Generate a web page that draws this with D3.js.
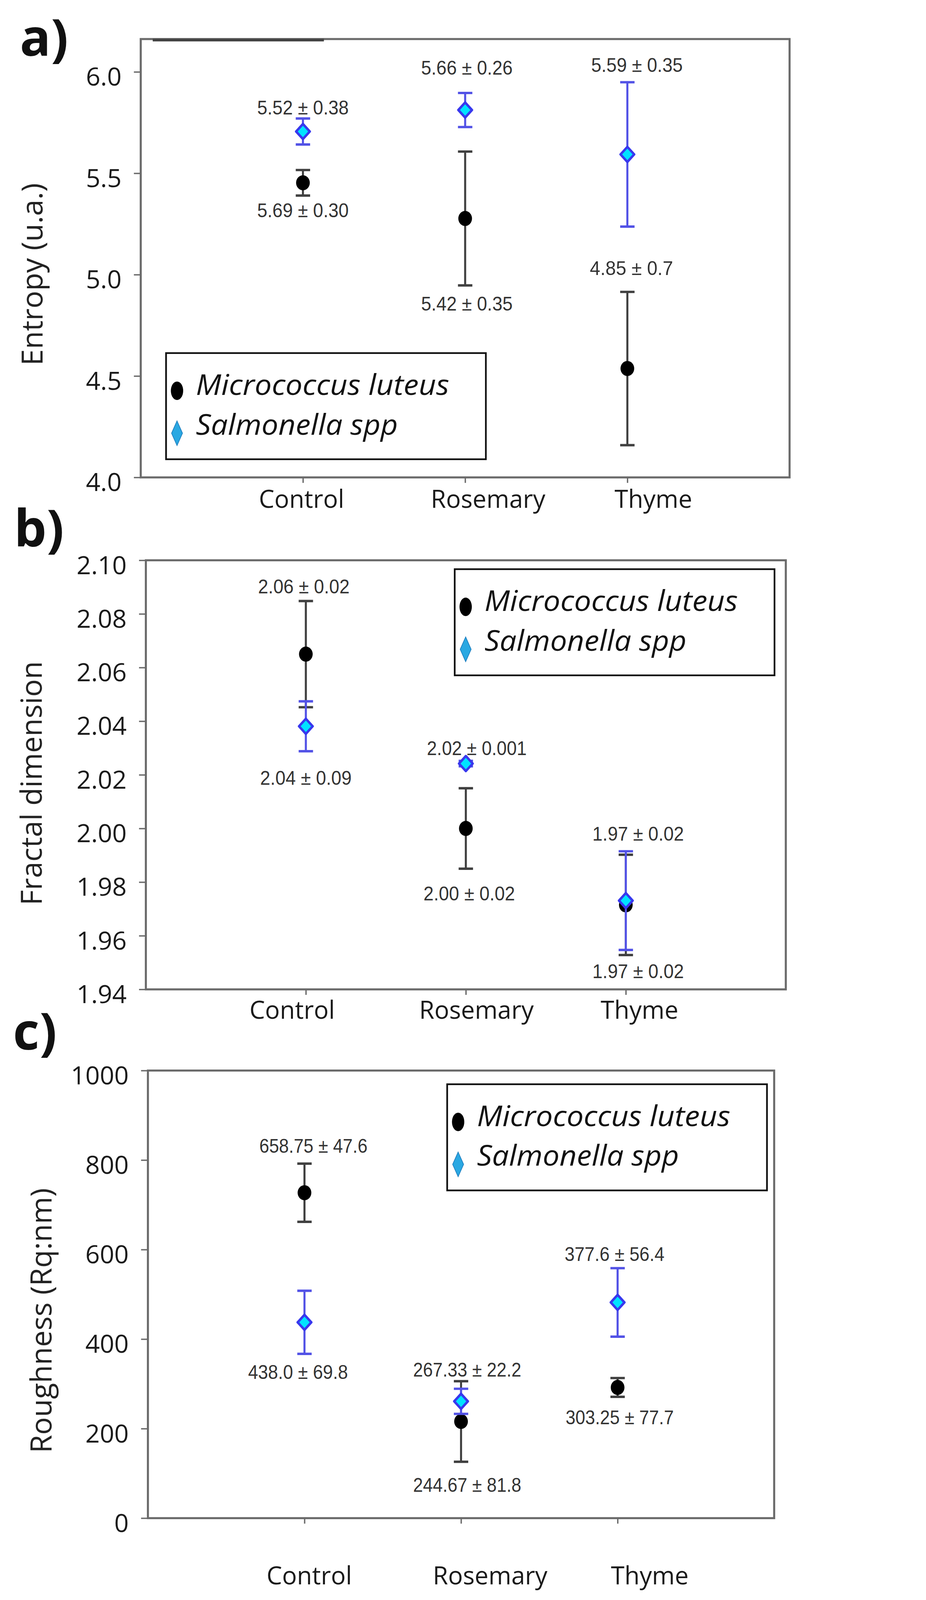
<!DOCTYPE html>
<html>

<head>
    <meta charset="utf-8">
    <style>
        html, body {
            margin: 0;
            padding: 0;
            background: #fff;
            overflow: hidden;
        }

        svg {
            display: block;
            font-family: 'Open Sans', 'DejaVu Sans', sans-serif;
        }

        .note {
            font-family: 'Liberation Sans', Arial, sans-serif;
            fill: #333;
        }
    </style>
</head>

<body>
</body>

<script src="https://d3js.org/d3.v7.min.js"></script>

<script>
    // ---- data ----
    let categories = ["Control", "Rosemary", "Thyme"]
    let seriesNames = ["Micrococcus luteus", "Salmonella spp"]

    // a) entropy
    let entropyMicro = [5.453, 5.277, 4.537]
    let entropyMicroErr = [0.063, 0.330, 0.378]
    let entropySalm = [5.706, 5.812, 5.593]
    let entropySalmErr = [0.064, 0.084, 0.356]
    let entropyTicks = [4.0, 4.5, 5.0, 5.5, 6.0]
    let entropyNotes = ["5.52 ± 0.38", "5.69 ± 0.30", "5.66 ± 0.26", "5.42 ± 0.35", "5.59 ± 0.35", "4.85 ± 0.7"]
    let entropyNoteCat = ["Control", "Control", "Rosemary", "Rosemary", "Thyme", "Thyme"]
    let entropyNoteAt = [5.824, 5.318, 6.02, 4.856, 6.034, 5.032]

    // b) fractal dimension
    let fractalMicro = [2.065, 2.000, 1.9715]
    let fractalMicroErr = [0.0198, 0.015, 0.0187]
    let fractalSalm = [2.0381, 2.0242, 1.9731]
    let fractalSalmErr = [0.0093, 0.001, 0.0184]
    let fractalTicks = [1.94, 1.96, 1.98, 2.00, 2.02, 2.04, 2.06, 2.08, 2.10]
    let fractalNotes = ["2.06 ± 0.02", "2.04 ± 0.09", "2.02 ± 0.001", "2.00 ± 0.02", "1.97 ± 0.02", "1.97 ± 0.02"]
    let fractalNoteCat = ["Control", "Control", "Rosemary", "Rosemary", "Thyme", "Thyme"]
    let fractalNoteAt = [2.0902, 2.0188, 2.030, 1.9757, 1.9981, 1.9468]

    // c) roughness
    let roughMicro = [727, 216, 292]
    let roughMicroErr = [65, 90, 21]
    let roughSalm = [437.5, 261, 482]
    let roughSalmErr = [70.5, 28, 76.5]
    let roughTicks = [0, 200, 400, 600, 800, 1000]
    let roughNotes = ["658.75 ± 47.6", "438.0 ± 69.8", "267.33 ± 22.2", "244.67 ± 81.8", "377.6 ± 56.4", "303.25 ± 77.7"]
    let roughNoteCat = ["Control", "Control", "Rosemary", "Rosemary", "Thyme", "Thyme"]
    let roughNoteAt = [832, 326.6, 332, 74, 589.7, 225.6]

    // ---- layout ----
    let width = 2371
    let height = 4672
    let black = "#000"
    let barBlack = "#404040"
    let barBlue = "#5252e6"

    let panels = [
        {
            tag: "a)", tagX: 58, tagY: 163,
            title: "Entropy (u.a.)", titleX: 94, titleY: 801,
            frame: [411, 2306, 114, 1394], domain: [4, 6.162],
            ticks: entropyTicks, fmt: d3.format(".1f"),
            micro: entropyMicro, microErr: entropyMicroErr,
            salm: entropySalm, salmErr: entropySalmErr,
            notes: entropyNotes, noteCat: entropyNoteCat, noteAt: entropyNoteAt,
            nudge: [0, 0, 5, 5, 28, 12],
            legend: [485, 1031], catY: 1458, catShift: -4
        },
        {
            tag: "b)", tagX: 41, tagY: 1596,
            title: "Fractal dimension", titleX: 92, titleY: 2287,
            frame: [426, 2295, 1636, 2889], domain: [1.94, 2.10],
            ticks: fractalTicks, fmt: d3.format(".2f"),
            micro: fractalMicro, microErr: fractalMicroErr,
            salm: fractalSalm, salmErr: fractalSalmErr,
            notes: fractalNotes, noteCat: fractalNoteCat, noteAt: fractalNoteAt,
            nudge: [-6, 0, 32, 10, 36, 36],
            legend: [1328, 1662], catY: 2950, catShift: -40
        },
        {
            tag: "c)", tagX: 38, tagY: 3065,
            title: "Roughness (Rq:nm)", titleX: 120, titleY: 3856,
            frame: [432, 2261, 3126, 4433], domain: [0, 1000],
            ticks: roughTicks, fmt: d3.format("d"),
            micro: roughMicro, microErr: roughMicroErr,
            salm: roughSalm, salmErr: roughSalmErr,
            notes: roughNotes, noteCat: roughNoteCat, noteAt: roughNoteAt,
            nudge: [26, -19, 18, 18, -9, 6],
            legend: [1306, 3166], catY: 4601, catShift: 14
        }
    ]
    let catNudge = [0, 71, 80]

    // fit the whole figure into the window, whatever its real height
    let vw = window.innerWidth || width
    let vh = window.innerHeight || height
    let s = Math.min(vw / width, vh / height, 1)

    let svg = d3.select("body").append("svg")
        .attr("width", width * s)
        .attr("height", height * s)
        .attr("viewBox", "0 0 " + width + " " + height)

    svg.append("rect").attr("width", width).attr("height", height).attr("fill", "#fff")

    function diamond(w, h) {
        return "M0," + (-h) + "L" + w + ",0L0," + h + "L" + (-w) + ",0Z"
    }

    panels.forEach(function (p, pi) {
        let [x0, x1, y0, y1] = p.frame
        let x = d3.scaleLinear().domain([0, 4]).range([x0, x1])
        let y = d3.scaleLinear().domain(p.domain).range([y1, y0])
        let xi = c => x(categories.indexOf(c) + 1)

        let g = svg.append("g").attr("class", "panel-" + pi)

        // panel letter
        g.append("text")
            .attr("x", p.tagX).attr("y", p.tagY)
            .attr("font-size", 150).attr("font-weight", "bold")
            .attr("fill", "#111")
            .text(p.tag)

        // frame
        g.append("rect")
            .attr("x", x0).attr("y", y0)
            .attr("width", x1 - x0).attr("height", y1 - y0)
            .attr("fill", "none")
            .attr("stroke", "#6b6b6b")
            .attr("stroke-width", 6)
        if (pi == 0) {
            g.append("line")
                .attr("x1", x0 + 35).attr("x2", x0 + 535)
                .attr("y1", y0 + 3).attr("y2", y0 + 3)
                .attr("stroke", "#444").attr("stroke-width", 8)
        }

        // y axis
        let yAxis = g.append("g")
            .attr("transform", "translate(" + x0 + ",0)")
            .call(d3.axisLeft(y).tickValues(p.ticks).tickFormat(p.fmt).tickSize(20).tickPadding(36))
        yAxis.select(".domain").remove()
        yAxis.selectAll("line").attr("stroke", "#6b6b6b").attr("stroke-width", 4)
        yAxis.selectAll("text")
            .attr("y", 16)
            .attr("font-size", 74)
            .attr("font-family", "'Open Sans', sans-serif")
            .attr("fill", "#1a1a1a")

        // x ticks
        let xAxis = g.append("g")
            .attr("transform", "translate(0," + y1 + ")")
            .call(d3.axisBottom(x).tickValues([1, 2, 3]).tickFormat("").tickSize(16))
        xAxis.select(".domain").remove()
        xAxis.selectAll("line").attr("stroke", "#6b6b6b").attr("stroke-width", 4)

        // category labels
        g.append("g").selectAll("text")
            .data(categories)
            .join("text")
            .attr("x", (d, i) => x(i + 1) + p.catShift + catNudge[i])
            .attr("y", p.catY)
            .attr("dy", "0.35em")
            .attr("text-anchor", "middle")
            .attr("font-size", 72)
            .attr("fill", "#1a1a1a")
            .text(d => d)

        // y title
        g.append("text")
            .attr("transform", "translate(" + p.titleX + "," + p.titleY + ") rotate(-90)")
            .attr("text-anchor", "middle")
            .attr("dy", "0.35em")
            .attr("font-size", 86)
            .attr("fill", "#222")
            .text(p.title)

        // error bars + markers
        function errorBars(vals, errs, color, cls) {
            let eb = g.append("g").attr("class", cls)
            eb.selectAll("line.stem")
                .data(vals)
                .join("line")
                .attr("class", "stem")
                .attr("x1", (d, i) => x(i + 1)).attr("x2", (d, i) => x(i + 1))
                .attr("y1", (d, i) => y(d + errs[i])).attr("y2", (d, i) => y(d - errs[i]))
                .attr("stroke", color).attr("stroke-width", 6)
            eb.selectAll("line.capTop")
                .data(vals)
                .join("line")
                .attr("class", "capTop")
                .attr("x1", (d, i) => x(i + 1) - 21).attr("x2", (d, i) => x(i + 1) + 21)
                .attr("y1", (d, i) => y(d + errs[i])).attr("y2", (d, i) => y(d + errs[i]))
                .attr("stroke", color).attr("stroke-width", 7)
            eb.selectAll("line.capBot")
                .data(vals)
                .join("line")
                .attr("class", "capBot")
                .attr("x1", (d, i) => x(i + 1) - 21).attr("x2", (d, i) => x(i + 1) + 21)
                .attr("y1", (d, i) => y(d - errs[i])).attr("y2", (d, i) => y(d - errs[i]))
                .attr("stroke", color).attr("stroke-width", 7)
        }

        errorBars(p.micro, p.microErr, barBlack, "micro-err")
        g.append("g").selectAll("ellipse")
            .data(p.micro)
            .join("ellipse")
            .attr("cx", (d, i) => x(i + 1))
            .attr("cy", d => y(d))
            .attr("rx", 20).attr("ry", 22)
            .attr("fill", black)

        errorBars(p.salm, p.salmErr, barBlue, "salm-err")
        g.append("g").selectAll("path")
            .data(p.salm)
            .join("path")
            .attr("transform", (d, i) => "translate(" + x(i + 1) + "," + y(d) + ")")
            .attr("d", diamond(20, 22))
            .attr("fill", "#00e3ff")
            .attr("stroke", "#3838ee")
            .attr("stroke-width", 7)
            .attr("stroke-linejoin", "round")

        // value notes
        g.append("g").selectAll("text")
            .data(p.notes)
            .join("text")
            .attr("class", "note")
            .attr("x", (d, i) => xi(p.noteCat[i]) + p.nudge[i])
            .attr("y", (d, i) => y(p.noteAt[i]))
            .attr("dy", "0.36em")
            .attr("text-anchor", "middle")
            .attr("font-size", 56)
            .attr("textLength", d => d.length * 24.3)
            .attr("lengthAdjust", "spacingAndGlyphs")
            .text(d => d)

        // legend
        let lg = g.append("g").attr("transform", "translate(" + p.legend[0] + "," + p.legend[1] + ")")
        lg.append("rect")
            .attr("width", 934).attr("height", 310)
            .attr("fill", "#fff")
            .attr("stroke", "#111").attr("stroke-width", 5)
        lg.append("ellipse")
            .attr("cx", 32).attr("cy", 110)
            .attr("rx", 18).attr("ry", 27)
            .attr("fill", black)
        lg.append("path")
            .attr("transform", "translate(32,234)")
            .attr("d", diamond(16, 36))
            .attr("fill", "#2aa8e2")
            .attr("stroke", "#1f7fc0").attr("stroke-width", 2)
        lg.selectAll("text")
            .data(seriesNames)
            .join("text")
            .attr("x", 87)
            .attr("y", (d, i) => i == 0 ? 122 : 238)
            .attr("font-size", 84)
            .attr("font-style", "italic")
            .attr("fill", "#111")
            .attr("textLength", (d, i) => i == 0 ? 740 : 590)
            .attr("lengthAdjust", "spacingAndGlyphs")
            .text(d => d)
    })
</script>

</html>
